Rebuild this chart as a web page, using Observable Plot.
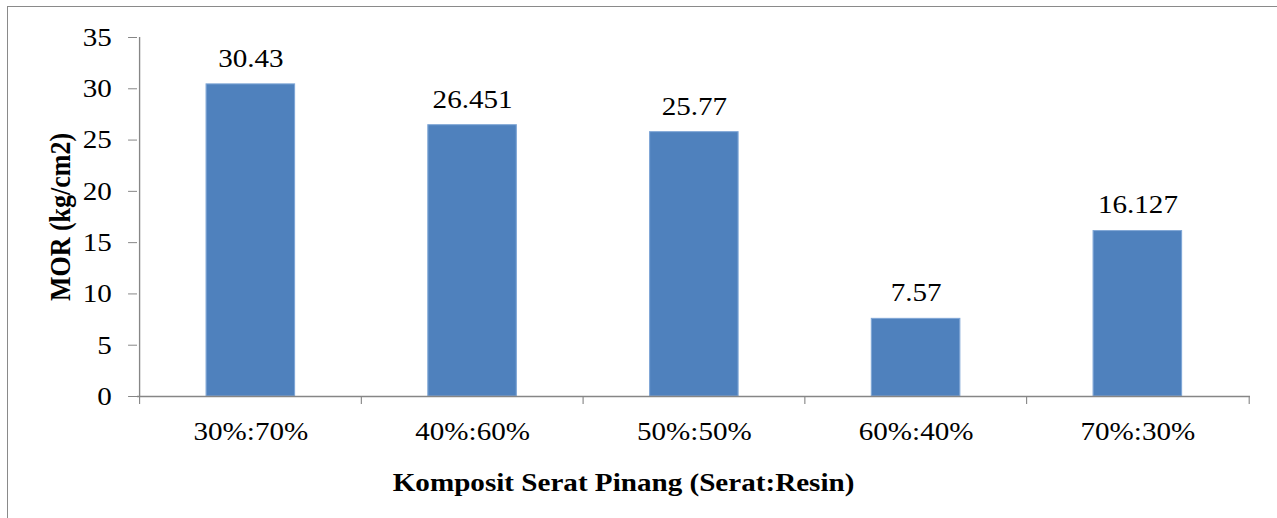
<!DOCTYPE html>
<html><head><meta charset="utf-8">
<script src="https://cdn.jsdelivr.net/npm/d3@7"></script>
<script src="https://cdn.jsdelivr.net/npm/@observablehq/plot@0.6"></script>
<style>
html,body{margin:0;padding:0;background:#fff;overflow:hidden;width:1277px;height:518px;}
#frame{position:absolute;left:7px;top:6px;width:1400px;height:700px;border-left:1.5px solid #8a8a8a;border-top:1.5px solid #8a8a8a;}
#chart{position:absolute;left:0;top:0;}
#chart svg{transform:scaleX(1.12);transform-origin:0 0;}
</style></head>
<body><div id="frame"></div><div id="chart"></div>
<script>
const categories = ["30%:70%", "40%:60%", "50%:50%", "60%:40%", "70%:30%"];
const morValues = [30.43, 26.451, 25.77, 7.57, 16.127];
const valueLabels = ["30.43", "26.451", "25.77", "7.57", "16.127"];
const yTicks = [0, 5, 10, 15, 20, 25, 30, 35];
const xTitle = "Komposit Serat Pinang (Serat:Resin)";
const yTitle = "MOR (kg/cm2)";

const S = 1.12;
const W = 1277 / S;
const left = 137 / S, right = (1277 - 1250) / S;
const step = (1250 - 137) / S / categories.length;
const axisColor = "#868686";
const FS = 26;
const data = categories.map((c, i) => ({cat: c, value: morValues[i], label: valueLabels[i]}));

const chart = Plot.plot({
  width: W,
  height: 518,
  marginLeft: left,
  marginRight: right,
  marginTop: 37,
  marginBottom: 122,
  style: {fontFamily: "'Liberation Serif', 'Times New Roman', serif", fontSize: FS + "px", color: "#000", background: "transparent", overflow: "visible"},
  x: {type: "band", domain: categories, paddingInner: 0.6, paddingOuter: 0.3, align: 0.5, axis: null},
  y: {domain: [0, d3.max(yTicks)], axis: null},
  marks: [
    Plot.barY(data, {x: "cat", y: "value", fill: "#4F81BD", stroke: "#7FA6D6", strokeWidth: 1}),
    Plot.ruleY([0], {stroke: axisColor, strokeWidth: 1.3}),
    Plot.ruleX(categories.slice(0, 1), {x: d => d, dx: -step / 2, y1: 0, y2: d3.max(yTicks), stroke: axisColor, strokeWidth: 1.2}),
    Plot.axisY({ticks: yTicks, tickSize: 8, tickPadding: 15, stroke: axisColor, fill: "#000", label: null, fontSize: FS}),
    Plot.axisX({tickSize: 0, tickPadding: 25, fill: "#000", label: null, fontSize: FS}),
    Plot.axisX({ticks: categories, tickSize: 8, dx: -step / 2, tickFormat: () => "", stroke: axisColor, label: null}),
    Plot.axisX({ticks: categories.slice(-1), tickSize: 8, dx: step / 2, tickFormat: () => "", stroke: axisColor, label: null}),
    Plot.text(data, {x: "cat", y: "value", text: "label", dy: -26, lineAnchor: "middle", fill: "#000", fontSize: FS}),
    Plot.text([yTitle], {frameAnchor: "left", dx: -77 / S, rotate: -90, textAnchor: "middle", lineAnchor: "middle", fontWeight: "bold", fill: "#000", fontSize: FS}),
    Plot.text([xTitle], {frameAnchor: "bottom", dy: 86, dx: (623 - 693.5) / S, textAnchor: "middle", lineAnchor: "middle", fontWeight: "bold", fill: "#000", fontSize: FS})
  ]
});
document.getElementById("chart").appendChild(chart);
</script>
</body></html>
